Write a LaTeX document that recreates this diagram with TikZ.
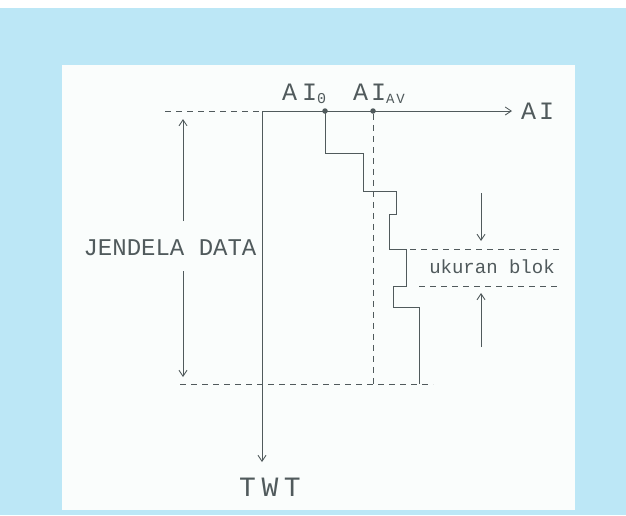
\documentclass[tikz,border=0pt]{standalone}
\usepackage{fontspec}
\newfontfamily\lbl{Liberation Mono}
\newfontfamily\lblw[LetterSpace=20]{Liberation Mono}
\newfontfamily\lbla[LetterSpace=12]{Liberation Mono}
\usetikzlibrary{arrows.meta}
\definecolor{bgblue}{RGB}{188,231,246}
\definecolor{panelc}{RGB}{250,253,252}
\definecolor{ink}{RGB}{80,90,92}
\begin{document}
\begin{tikzpicture}[x=1pt,y=-1pt,
 ln/.style={draw=ink, line width=0.9pt},
 dsh/.style={ln, dash pattern=on 6pt off 5pt},
 arr/.style={ln, -{Straight Barb[length=6pt,width=8pt]}},
 txt/.style={text=ink, font=\lbl\fontsize{24}{24}\selectfont, inner sep=0pt},
 dotc/.style={circle, fill=ink, inner sep=0pt, minimum size=5.5pt}]
\useasboundingbox (0,0) rectangle (626,515);
\fill[white] (0,0) rectangle (626,515);
\fill[bgblue] (0,8) rectangle (626,515);
\fill[panelc] (62,65) rectangle (575,510);
% axes
\coordinate (O) at (262,111);
\coordinate (dl) at (165,111);
\coordinate (xe) at (512,111);
\coordinate (ye) at (262,462);
\node[dotc] (a0) at (325,111) {};
\node[dotc] (av) at (373,111) {};
\coordinate (avb) at (373,384);
\coordinate (bl) at (180,384);
\coordinate (br) at (433,384);
\draw[dsh] (dl) -- (O);
\draw[arr] (O) -- (xe);
\draw[arr] (O) -- (ye);
\draw[dsh] (av) -- (avb);
\draw[dsh] (bl) -- (br);
% staircase
\draw[ln] (a0.center) |- (363,153) |- (396,191) |- (389,214) |- (406,249) |- (393,286) |- (419,307) -- (419,384);
% block size
\coordinate (b1l) at (410,249); \coordinate (b1r) at (560,249);
\coordinate (b2l) at (419,286); \coordinate (b2r) at (560,286);
\draw[dsh] (b1l) -- (b1r);
\draw[dsh] (b2l) -- (b2r);
\coordinate (ad1) at (481,193); \coordinate (ad2) at (481,241);
\coordinate (au1) at (481,347); \coordinate (au2) at (481,293);
\draw[arr] (ad1) -- (ad2);
\draw[arr] (au1) -- (au2);
\node[txt, font=\lbl\fontsize{19}{19}\selectfont] (ub) at (492,267) {ukuran blok};
% data window
\node[txt] (jd) at (170,248) {JENDELA DATA};
\coordinate (j1) at (183,221); \coordinate (j1t) at (183,119);
\coordinate (j2) at (183,271); \coordinate (j2t) at (183,377);
\draw[arr] (j1) -- (j1t);
\draw[arr] (j2) -- (j2t);
% labels
\node[txt, anchor=base west, font=\lblw\fontsize{25}{25}\selectfont] (l0) at (282,100) {AI\raisebox{-0.3ex}{\lbl\fontsize{15}{15}\selectfont 0}};
\node[txt, anchor=base west, font=\lbla\fontsize{25}{25}\selectfont] (lav) at (353,100) {AI\raisebox{-0.3ex}{\lbla\fontsize{14}{14}\selectfont AV}};
\node[txt, anchor=west, font=\lbla\fontsize{25}{25}\selectfont] (lai) at (521,111) {AI};
\node[txt, font=\lblw\fontsize{28}{28}\selectfont] (twt) at (270,487) {TWT};
\end{tikzpicture}
\end{document}
